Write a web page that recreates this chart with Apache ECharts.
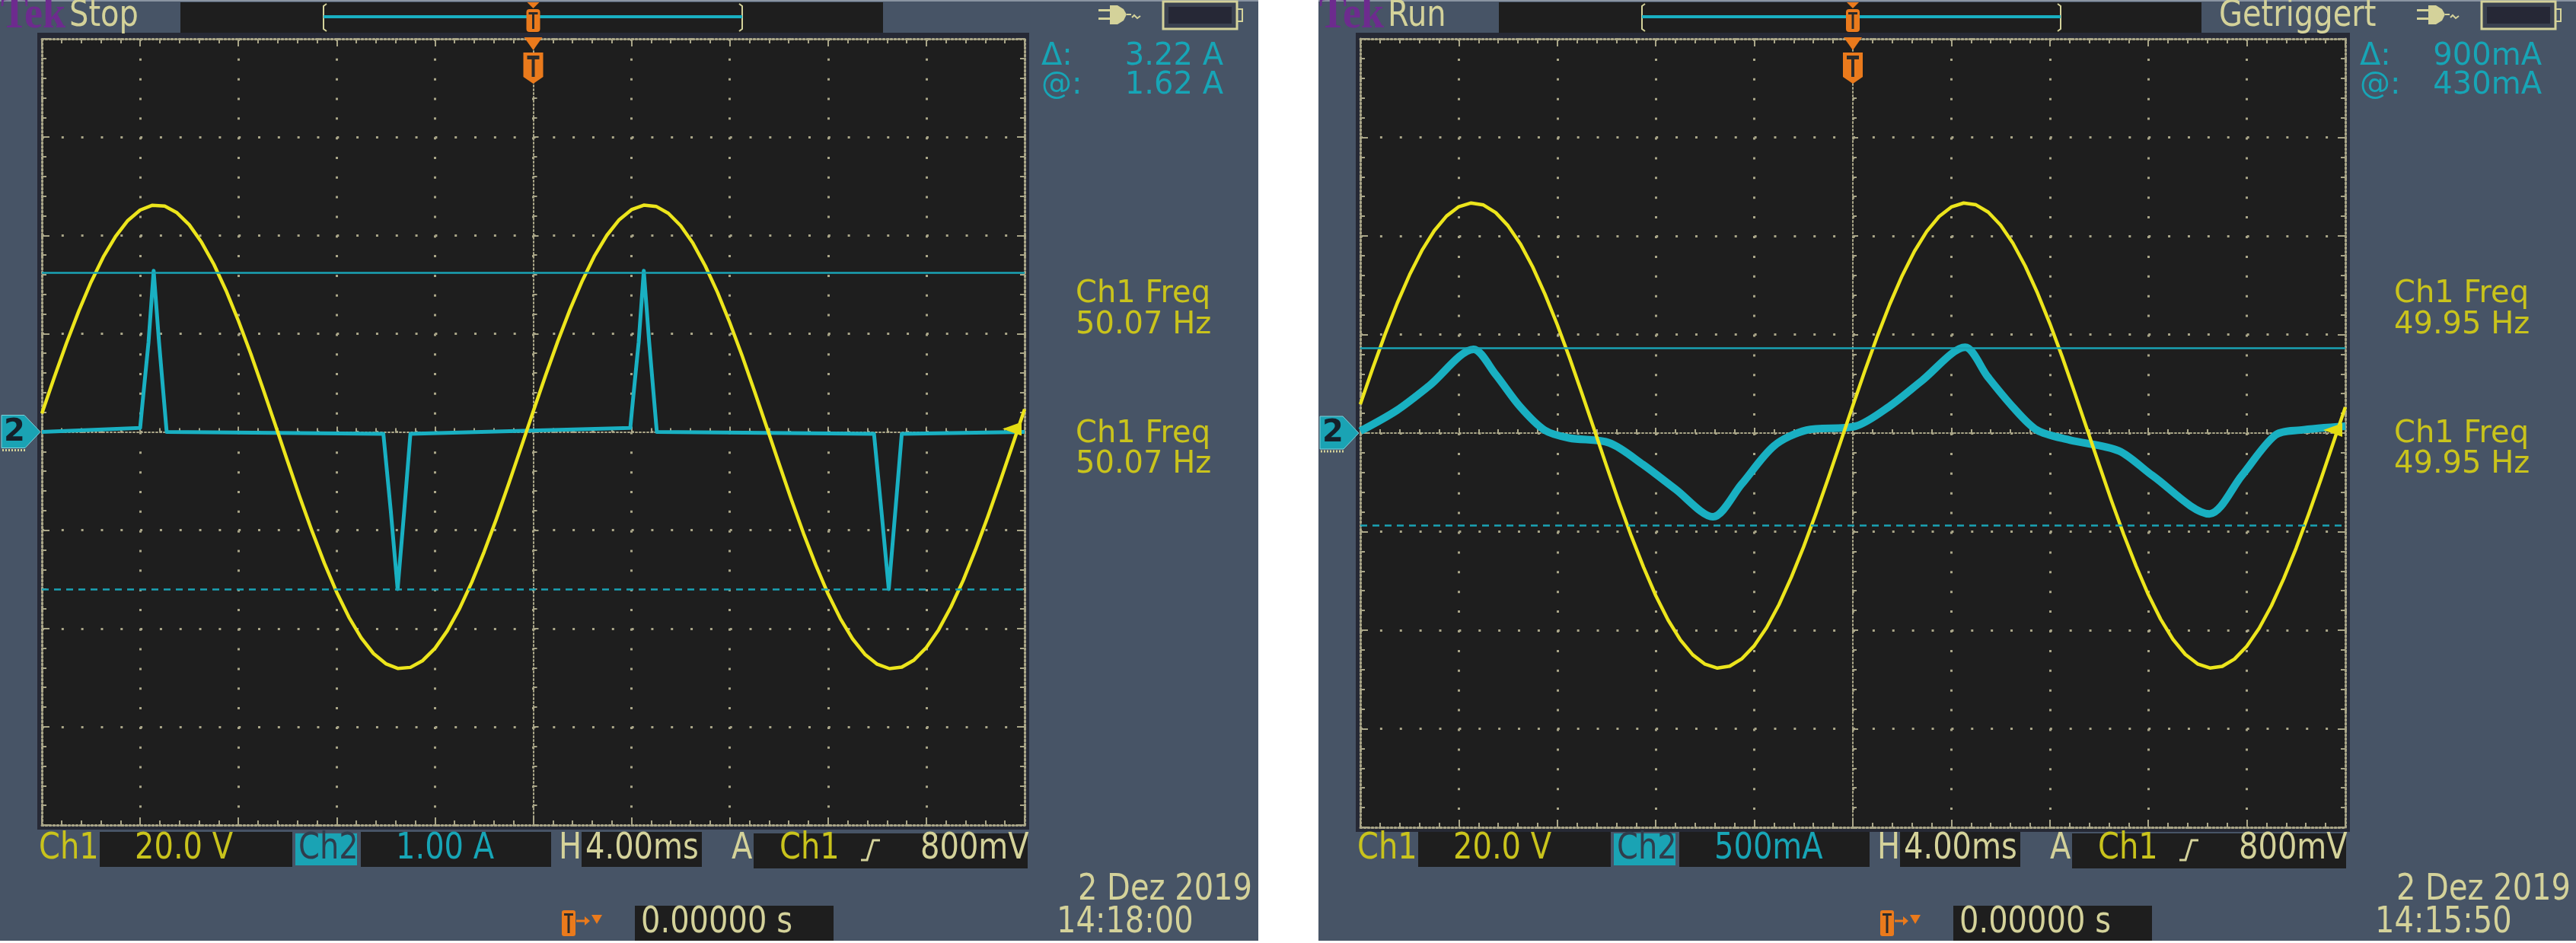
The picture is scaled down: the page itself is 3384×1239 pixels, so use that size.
<!DOCTYPE html>
<html>
<head>
<meta charset="utf-8">
<title>Oszilloskop Ch1 / Ch2</title>
<script src="https://cdn.jsdelivr.net/npm/echarts@6/dist/echarts.min.js"></script>
<style>
  * { margin: 0; padding: 0; }
  body { background: #ffffff; }
  #main { width: 3384px; height: 1239px; }
</style>
</head>
<body>
<div id="main"></div>
<script>
var timeMs = [-20,-19.5,-19,-18.5,-18,-17.5,-17,-16.5,-16,-15.5,-15,-14.5,-14,-13.5,-13,-12.5,-12,-11.5,-11,-10.5,
  -10,-9.5,-9,-8.5,-8,-7.5,-7,-6.5,-6,-5.5,-5,-4.5,-4,-3.5,-3,-2.5,-2,-1.5,-1,-0.5,
  0,0.5,1,1.5,2,2.5,3,3.5,4,4.5,5,5.5,6,6.5,7,7.5,8,8.5,9,9.5,
  10,10.5,11,11.5,12,12.5,13,13.5,14,14.5,15,15.5,16,16.5,17,17.5,18,18.5,19,19.5,20];

// Ch1 Spannung (V), linker Schirm
var ch1LeftV = [3.74,11.04,18.05,24.57,30.48,35.59,39.80,43.03,45.15,46.13,45.95,44.60,42.15,38.60,34.11,28.74,22.61,15.95,8.79,1.45,
  -5.96,-13.28,-20.24,-26.73,-32.64,-37.73,-41.91,-45.11,-47.18,-48.14,-47.92,-46.53,-44.04,-40.48,-35.96,-30.57,-24.40,-17.71,-10.56,-3.23,
  4.19,11.47,18.45,24.95,30.80,35.88,40.04,43.18,45.24,46.15,45.90,44.49,41.97,38.40,33.81,28.40,22.23,15.53,8.36,1.01,
  -6.40,-13.71,-20.65,-27.09,-32.97,-38.00,-42.13,-45.26,-47.27,-48.17,-47.87,-46.42,-43.87,-40.26,-35.62,-30.22,-24.00,-17.29,-10.13,-2.78,4.63];
// Ch1 Spannung (V), rechter Schirm
var ch1RightV = [5.85,13.08,19.98,26.37,32.11,37.04,41.05,44.04,45.94,46.69,46.28,44.73,42.06,38.39,33.70,28.17,21.97,15.23,8.03,0.68,
  -6.70,-13.97,-20.84,-27.20,-33.01,-37.96,-41.98,-45.00,-46.90,-47.69,-47.30,-45.76,-43.14,-39.46,-34.82,-29.28,-23.11,-16.32,-9.19,-1.83,
  5.56,12.80,19.72,26.14,31.90,36.87,40.90,43.93,45.88,46.68,46.32,44.82,42.19,38.54,33.90,28.41,22.23,15.50,8.32,0.98,
  -6.42,-13.69,-20.58,-26.96,-32.79,-37.78,-41.85,-44.91,-46.84,-47.68,-47.33,-45.84,-43.25,-39.61,-35.02,-29.51,-23.37,-16.60,-9.48,-2.12,5.27];

// Ch2 Strom (A), linker Schirm: Pulse
var ch2LeftMs = [-20,-16.0,-15.94,-15.66,-15.45,-15.23,-14.92,-6.1,-5.8,-5.52,-5.25,-5.0,
  3.95,4.01,4.29,4.50,4.72,5.03,13.87,14.17,14.47,14.74,15.0,20];
var ch2LeftA = [0.0,0.04,0.2,0.91,1.64,0.91,0.0,-0.02,-0.8,-1.6,-0.8,-0.02,
  0.04,0.2,0.91,1.64,0.91,0.0,-0.02,-0.8,-1.6,-0.8,-0.02,0.0];

// Ch2 Strom (mA), rechter Schirm
var ch2RightMs = [-20,-18.52,-17.2,-15.4,-14.52,-13.52,-12.52,-11.52,-9.88,-8.52,-7.2,-5.68,-4.52,-3.2,-1.88,
  0.12,1.48,2.8,4.56,5.48,6.48,7.48,8.8,10.8,12.16,14.48,15.8,17.16,18.16,20];
var ch2RightMa = [10,115,240,425,300,135,15,-25,-50,-160,-285,-425,-260,-65,15,
  35,135,265,435,285,135,15,-35,-90,-215,-410,-215,-10,15,35];

// Cursor (solid, dashed)
var cursorLeftA = [1.62, -1.60];
var cursorRightMa = [430, -470];

var COL = {
  panel: '#475466', screen: '#1e1e1e', frame: '#262935', dot: '#aaa688',
  yellow: '#ece51c', ch1txt: '#c9c31c', cyan: '#19b0c2', cyantxt: '#17a5b6',
  beige: '#d4d29a', orange: '#ea7a1c', purple: '#6d2b8e', ch2box: '#1aa3b4',
  cursor: '#1aa3b5', dark: '#2b2b2b'
};
var FONT = '"DejaVu Sans", sans-serif';

var panels = [
  { dx: 0, pw: 1653, grid: { left: 55, top: 51, width: 1291, height: 1033 },
    mode: 'Stop', trig: '', ch2Scale: '1.00 A', ch2Min: -4, ch2Max: 4,
    ch1: ch1LeftV, ch2T: ch2LeftMs, ch2V: ch2LeftA, cursors: cursorLeftA,
    delta: '3.22 A', at: '1.62 A', freq: '50.07 Hz', clock: '14:18:00', traceW: 5, smooth2: false },
  { dx: 1732, pw: 1652, grid: { left: 1787, top: 51, width: 1294, height: 1036 },
    mode: 'Run', trig: 'Getriggert', ch2Scale: '500mA', ch2Min: -2000, ch2Max: 2000,
    ch1: ch1RightV, ch2T: ch2RightMs, ch2V: ch2RightMa, cursors: cursorRightMa,
    delta: '900mA', at: '430mA', freq: '49.95 Hz', clock: '14:15:50', traceW: 10, smooth2: 0.3 }
];

function txt(x, y, text, fill, size, extra) {
  var st = { text: text, fill: fill, font: size + 'px ' + FONT,
    textAlign: 'left', align: 'left', textVerticalAlign: 'middle', verticalAlign: 'middle' };
  var sy = 1;
  if (extra) for (var k in extra) { if (k === 'sy') sy = extra[k]; else st[k] = extra[k]; }
  return { type: 'text', x: x, y: y, scaleY: sy, z: 20, silent: true, style: st };
}
function rect(x, y, w, h, fill, z, r) {
  return { type: 'rect', z: z, silent: true, shape: { x: x, y: y, width: w, height: h, r: r || 0 }, style: { fill: fill } };
}
function poly(points, fill, z) {
  return { type: 'polygon', z: z, silent: true, shape: { points: points }, style: { fill: fill } };
}
function pline(points, stroke, w, z, dash) {
  return { type: 'polyline', z: z, silent: true, shape: { points: points },
    style: { stroke: stroke, lineWidth: w, fill: null, lineDash: dash || null } };
}

function chrome(p) {
  var d = p.dx, g = p.grid;
  var cx = g.left + g.width / 2, cy = g.top + g.height / 2;
  var gR = g.left + g.width;
  var tall = { sy: 1.2 };
  var el = [];
  el.push(rect(d, 0, p.pw, 1236, COL.panel, -10));
  el.push(rect(d, 0, p.pw, 2, '#8a94a2', -9));
  el.push(rect(g.left - 6, g.top - 8, g.width + 12, g.height + 14, COL.frame, -9));
  // record view oben
  el.push(rect(d + 237, 3, 923, 40, COL.screen, -8));
  el.push(pline([[d + 429, 5], [d + 425, 8], [d + 425, 38], [d + 429, 41]], COL.beige, 2, 5));
  el.push(pline([[d + 971, 5], [d + 975, 8], [d + 975, 38], [d + 971, 41]], COL.beige, 2, 5));
  el.push(rect(d + 425, 20, 550, 4, COL.cyan, 5));
  el.push(poly([[cx - 8, 3], [cx + 8, 3], [cx, 11]], COL.orange, 20));
  el.push(rect(cx - 9, 12, 18, 30, COL.orange, 20, 4));
  el.push(rect(cx - 6, 16, 12, 3, COL.dark, 21));
  el.push(rect(cx - 1.5, 16, 3, 22, COL.dark, 21));
  // Triggermarke im Schirm
  el.push(poly([[cx - 12, 49], [cx + 12, 49], [cx, 66]], COL.orange, 20));
  el.push(poly([[cx - 13, 69], [cx + 13, 69], [cx + 13, 101], [cx, 110], [cx - 13, 101]], COL.orange, 20));
  el.push(rect(cx - 8, 73, 16, 5, COL.dark, 21));
  el.push(rect(cx - 2, 73, 4, 28, COL.dark, 21));
  // Kopfzeile
  el.push(txt(d + 1, 21, 'Tek', COL.purple, 54, { font: 'bold 54px "Liberation Serif", serif', sy: 1.1 }));
  el.push(txt(d + 91, 22, p.mode, COL.beige, 40, tall));
  if (p.trig) el.push(txt(d + 1183, 22, p.trig, COL.beige, 40, tall));
  // Stecker
  el.push(rect(d + 1443, 12, 16, 3, COL.beige, 20));
  el.push(rect(d + 1443, 23, 16, 3, COL.beige, 20));
  el.push(poly([[d + 1458, 7], [d + 1468, 7], [d + 1476, 12], [d + 1480, 19], [d + 1476, 27], [d + 1468, 32], [d + 1458, 32]], COL.beige, 20));
  el.push(pline([[d + 1480, 19], [d + 1486, 19]], COL.beige, 2, 20));
  el.push(pline([[d + 1487, 23], [d + 1490, 20], [d + 1494, 24], [d + 1498, 21]], COL.beige, 2, 20));
  // Batterie
  el.push({ type: 'rect', z: 20, silent: true, shape: { x: d + 1528, y: 2, width: 97, height: 36 },
    style: { fill: '#3a4150', stroke: COL.beige, lineWidth: 3 } });
  el.push(rect(d + 1535, 9, 83, 22, '#262836', 21));
  el.push({ type: 'rect', z: 20, silent: true, shape: { x: d + 1625, y: 12, width: 7, height: 16 },
    style: { fill: null, stroke: COL.beige, lineWidth: 2 } });
  // Cursor-Anzeige
  el.push(txt(d + 1368, 75, 'Δ:', COL.cyantxt, 40));
  el.push(txt(d + 1607, 75, p.delta, COL.cyantxt, 40, { textAlign: 'right', align: 'right' }));
  el.push(txt(d + 1368, 113, '@:', COL.cyantxt, 40));
  el.push(txt(d + 1607, 113, p.at, COL.cyantxt, 40, { textAlign: 'right', align: 'right' }));
  // Messwerte
  el.push(txt(d + 1413, 387, 'Ch1 Freq', COL.ch1txt, 40));
  el.push(txt(d + 1413, 428, p.freq, COL.ch1txt, 40));
  el.push(txt(d + 1413, 571, 'Ch1 Freq', COL.ch1txt, 40));
  el.push(txt(d + 1413, 611, p.freq, COL.ch1txt, 40));
  // Fusszeile
  el.push(rect(d + 131, 1093, 253, 46, COL.screen, -8));
  el.push(rect(d + 388, 1095, 81, 42, COL.ch2box, -8));
  el.push(rect(d + 474, 1093, 250, 46, COL.screen, -8));
  el.push(rect(d + 764, 1093, 158, 46, COL.screen, -8));
  el.push(rect(d + 990, 1095, 360, 46, COL.screen, -8));
  el.push(txt(d + 51, 1116, 'Ch1', COL.ch1txt, 40, tall));
  el.push(txt(d + 177, 1116, '20.0 V', COL.ch1txt, 40, tall));
  el.push(txt(d + 392, 1116, 'Ch2', '#2f3d4c', 40, tall));
  el.push(txt(d + 520, 1116, p.ch2Scale, COL.cyantxt, 40, tall));
  el.push(txt(d + 734, 1116, 'H', COL.beige, 40, tall));
  el.push(txt(d + 769, 1116, '4.00ms', COL.beige, 40, tall));
  el.push(txt(d + 961, 1116, 'A', COL.beige, 40, tall));
  el.push(txt(d + 1024, 1116, 'Ch1', COL.ch1txt, 40, tall));
  el.push(pline([[d + 1131, 1130], [d + 1139, 1130], [d + 1147, 1104], [d + 1156, 1104]], COL.beige, 3, 20));
  el.push(txt(d + 1209, 1116, '800mV', COL.beige, 40, tall));
  el.push(txt(d + 1645, 1170, '2 Dez 2019', COL.beige, 40, { textAlign: 'right', align: 'right', sy: 1.2 }));
  el.push(txt(d + 1388, 1213, p.clock, COL.beige, 40, tall));
  // Trigger-Zeit
  el.push(rect(d + 834, 1190, 261, 46, COL.screen, -8));
  el.push(txt(d + 842, 1213, '0.00000 s', COL.beige, 40, tall));
  el.push(rect(d + 738, 1196, 18, 34, COL.orange, 20, 3));
  el.push(rect(d + 741, 1200, 12, 3, COL.dark, 21));
  el.push(rect(d + 745.5, 1200, 3, 26, COL.dark, 21));
  el.push(pline([[d + 757, 1210], [d + 769, 1210]], COL.orange, 3, 20));
  el.push(poly([[d + 768, 1204], [d + 775, 1210], [d + 768, 1216]], COL.orange, 20));
  el.push(poly([[d + 777, 1202], [d + 791, 1202], [d + 784, 1214]], COL.orange, 20));
  // Ch2 Nullmarke
  var gL = g.left;
  el.push({ type: 'polygon', z: 20, silent: true,
    shape: { points: [[gL - 53, cy - 22], [gL - 23, cy - 22], [gL - 2, cy], [gL - 22, cy + 21], [gL - 53, cy + 21]] },
    style: { fill: COL.ch2box, stroke: '#7fd0da', lineWidth: 1 } });
  el.push(txt(gL - 36, cy + 1, '2', '#15202a', 40, { textAlign: 'center', align: 'center', font: 'bold 40px ' + FONT }));
  el.push(pline([[gL - 52, cy + 24], [gL - 22, cy + 24]], COL.beige, 3, 20, [2, 2]));
  // Triggerpegel rechts
  el.push(poly([[gR - 29, cy - 4], [gR - 4, cy - 13], [gR - 4, cy + 5]], '#e3dc12', 20));
  return el;
}

var option = {
  animation: false,
  backgroundColor: '#ffffff',
  grid: [], xAxis: [], yAxis: [], series: [],
  graphic: { elements: [] }
};

var edgeLine = { color: COL.dot, width: 3, type: [2, 3] };
var tickStyle = { color: COL.dot, width: 2 };

panels.forEach(function (p, i) {
  var g = p.grid;
  option.grid.push({ left: g.left, top: g.top, width: g.width, height: g.height,
    show: true, backgroundColor: COL.screen, borderWidth: 0, containLabel: false, outerBoundsMode: 'none' });
  var vStep = g.height / 40, hStep = g.width / 50;
  var xBase = { gridIndex: i, type: 'value', min: -20, max: 20, interval: 4,
    axisLabel: { show: false }, splitLine: { show: false },
    axisTick: { show: true, inside: true, length: 10, lineStyle: tickStyle },
    minorTick: { show: true, splitNumber: 5, length: 6, lineStyle: tickStyle } };
  option.xAxis.push(Object.assign({}, xBase, { position: 'bottom',
    axisLine: { show: true, onZero: false, lineStyle: edgeLine },
    splitLine: { show: true, lineStyle: { color: COL.dot, width: 3, type: [3, vStep - 3] } } }));
  option.xAxis.push(Object.assign({}, xBase, { position: 'top',
    axisLine: { show: true, onZero: false, lineStyle: edgeLine } }));
  option.xAxis.push(Object.assign({}, xBase, { position: 'bottom',
    axisTick: { show: true, inside: true, length: 7, lineStyle: tickStyle },
    minorTick: { show: true, splitNumber: 5, length: 5, lineStyle: tickStyle },
    axisLine: { show: true, onZero: true, onZeroAxisIndex: 4 * i, lineStyle: { color: COL.dot, width: 2, type: [2, 3] } } }));

  var yBase = { gridIndex: i, type: 'value', min: -80, max: 80, interval: 20,
    axisLabel: { show: false }, splitLine: { show: false },
    axisTick: { show: true, inside: true, length: 10, lineStyle: tickStyle },
    minorTick: { show: true, splitNumber: 5, length: 6, lineStyle: tickStyle } };
  option.yAxis.push(Object.assign({}, yBase, { position: 'left',
    axisLine: { show: true, onZero: false, lineStyle: edgeLine },
    splitLine: { show: true, lineStyle: { color: COL.dot, width: 3, type: [3, hStep - 3] } } }));
  option.yAxis.push(Object.assign({}, yBase, { position: 'right',
    axisLine: { show: true, onZero: false, lineStyle: edgeLine } }));
  option.yAxis.push(Object.assign({}, yBase, { position: 'left',
    axisTick: { show: true, inside: true, length: 7, lineStyle: tickStyle },
    minorTick: { show: true, splitNumber: 5, length: 5, lineStyle: tickStyle },
    axisLine: { show: true, onZero: true, onZeroAxisIndex: 3 * i, lineStyle: { color: COL.dot, width: 2, type: [2, 3] } } }));
  option.yAxis.push({ gridIndex: i, type: 'value', min: p.ch2Min, max: p.ch2Max, show: false,
    axisLine: { onZero: false }, splitLine: { show: false } });

  option.series.push({
    name: 'Ch2', type: 'line', xAxisIndex: 3 * i, yAxisIndex: 4 * i + 3,
    data: p.ch2T.map(function (t, k) { return [t, p.ch2V[k]]; }),
    symbol: 'none', smooth: p.smooth2, z: 3, silent: true,
    lineStyle: { color: COL.cyan, width: p.traceW, join: 'round' },
    markLine: { silent: true, symbol: 'none', label: { show: false },
      lineStyle: { color: COL.cursor, width: 2.5, type: 'solid' },
      data: [{ yAxis: p.cursors[0] },
             { yAxis: p.cursors[1], lineStyle: { type: [9, 7], color: COL.cursor, width: 2.5 } }] }
  });
  option.series.push({
    name: 'Ch1', type: 'line', xAxisIndex: 3 * i, yAxisIndex: 4 * i,
    data: timeMs.map(function (t, k) { return [t, p.ch1[k]]; }),
    symbol: 'none', smooth: false, z: 4, silent: true,
    lineStyle: { color: COL.yellow, width: 4.5, join: 'round' }
  });
  option.graphic.elements = option.graphic.elements.concat(chrome(p));
});

var chart = echarts.init(document.getElementById('main'));
chart.setOption(option);
</script>
</body>
</html>
